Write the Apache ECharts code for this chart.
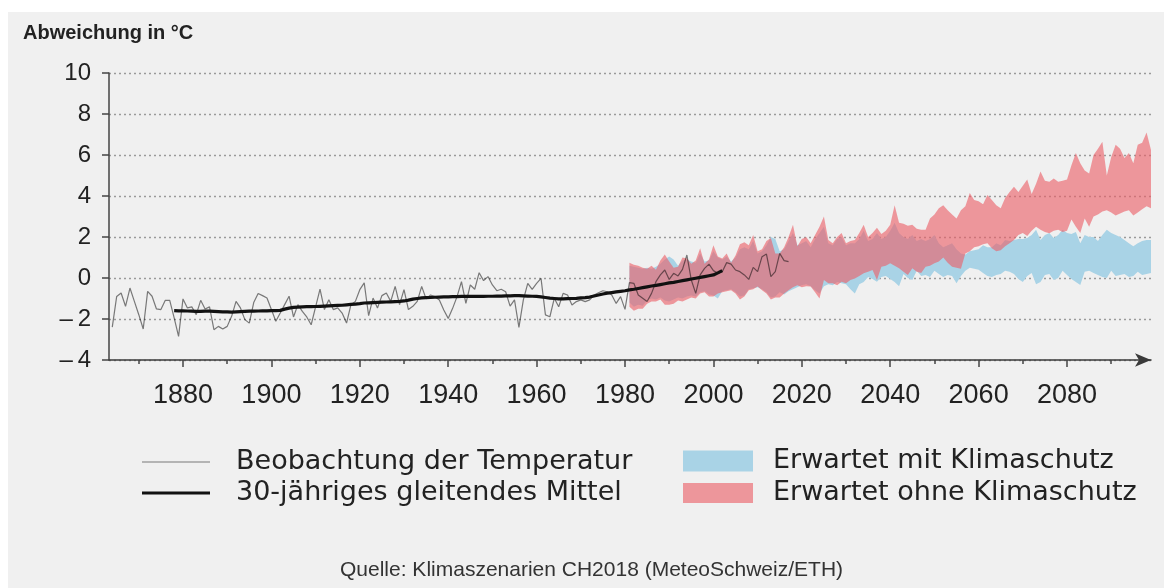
<!DOCTYPE html>
<html>
<head>
<meta charset="utf-8">
<script src="https://cdn.jsdelivr.net/npm/echarts@6/dist/echarts.min.js"></script>
<style>
  html, body { margin: 0; padding: 0; background: #fff; }
  #chart { position: absolute; left: 8px; top: 12px; width: 1156px; height: 576px; background: #f0f0f0; }
</style>
</head>
<body>
<div id="chart"></div>
<script>
// Beobachtung (jährliche Abweichung), ab 1864
const obsStart = 1864;
const obsValues = [
  -2.4, -0.9, -0.73, -1.38, -0.49, -1.14,
  -1.79, -2.49, -0.65, -0.89, -1.51, -1.54, -1.09, -1.09, -1.95, -2.85,
  -1.02, -1.46, -1.41, -1.79, -1.09, -1.51, -1.41, -2.52, -2.36, -2.49,
  -2.36, -1.87, -1.14, -1.46, -2.03, -2.2, -1.2, -0.76, -0.86, -0.98,
  -1.54, -2.11, -1.71, -1.3, -0.89, -1.9, -1.3, -1.63, -1.9, -2.28,
  -1.41, -0.54, -1.54, -1.06, -1.54, -1.46, -1.71, -2.2, -1.3, -1.14,
  -0.57, -0.24, -1.84, -0.98, -1.46, -0.86, -0.73, -1.14, -0.41, -1.3,
  -0.57, -1.54, -1.38, -1.14, -0.41, -1.02, -0.83, -0.91, -1.07, -1.56,
  -1.97, -1.48, -0.91, -0.18, -1.24, -0.34, -0.55, 0.26, -0.13, 0.07,
  -0.34, -0.62, -0.55, -0.67, -1.37, -1.07, -2.41, -1.07, -0.26, -0.55,
  -0.26, -0.02, -1.8, -1.89, -0.99, -1.4, -0.75, -0.83, -1.32, -1.15,
  -1.07, -1.15, -1.07, -0.83, -0.72, -0.62, -0.67, -0.83, -1.24, -0.91,
  -1.53, -0.23, -0.26, -0.83, -0.99, -1.15, -0.75, -0.18, 0.15, 0.39,
  -0.07, 0.23, 0.1, 0.42, 1.12, -0.1, -0.75, 0.15, 0.47, 0.68,
  0.36, 0.23, 0.31, 0.75, 0.68, 0.39, 0.31, 0.15, -0.07, 0.52,
  0.31, 1.04, 1.17, 0.07, 0.31, 1.2, 0.85, 0.8
];

// 30-jähriges gleitendes Mittel, ab 1878
const meanStart = 1878;
const meanValues = [
  -1.59, -1.60, -1.60, -1.61, -1.62, -1.63, -1.63, -1.62, -1.62, -1.63,
  -1.64, -1.65, -1.65, -1.66, -1.65, -1.64, -1.63, -1.62, -1.62, -1.61,
  -1.60, -1.60, -1.59, -1.59, -1.58,
  -1.52, -1.47, -1.43, -1.42, -1.41, -1.40, -1.40, -1.39, -1.38, -1.37, -1.36, -1.35, -1.34,
  -1.33, -1.31, -1.29, -1.27, -1.25, -1.22, -1.21, -1.20, -1.19, -1.18,
  -1.17, -1.16, -1.15, -1.14, -1.12, -1.08, -1.03, -1.00, -0.97, -0.96, -0.95,
  -0.94, -0.93, -0.92, -0.92, -0.91, -0.91, -0.90, -0.90, -0.90, -0.90,
  -0.90, -0.90, -0.89, -0.89, -0.88, -0.88, -0.87, -0.87, -0.86, -0.86,
  -0.87, -0.88, -0.89, -0.90, -0.92, -0.95,
  -0.98, -1.00, -1.02, -1.02, -1.01, -1.00, -0.99, -0.97, -0.96, -0.93,
  -0.88, -0.83, -0.78, -0.74, -0.71, -0.68, -0.65, -0.62, -0.58, -0.55,
  -0.51, -0.47, -0.43, -0.39, -0.36, -0.32, -0.28, -0.24, -0.21, -0.17,
  -0.13, -0.09, -0.05, -0.01, 0.03, 0.07, 0.11, 0.15, 0.25, 0.36
];

// Szenarien, ab 1981 (untere / obere Grenze)
const scenStart = 1981;
const blueLow = [
  -1.2, -1.4, -1.3, -1.35, -1.1, -1.0, -1.05, -0.95, -1.1, -1.15,
  -1.05, -0.95, -1.0, -0.9, -0.85, -0.9, -0.7, -0.65, -0.8, -0.85,
  -1.0, -0.65, -0.6, -0.55, -0.7, -0.9, -0.85, -0.55, -0.5, -0.45,
  -0.55, -0.7, -0.95, -0.9, -0.7, -0.8, -0.65, -0.55, -0.45, -0.35,
  -0.3, -0.4, -0.6, -0.75, -0.4, -0.3, -0.35, -0.2, -0.25, -0.3,
  -0.55, -0.75, -0.3, -0.2, 0.05, -0.05, -0.18, 0.05, 0.1, -0.05,
  -0.2, -0.4, 0.2, 0.0, -0.1, 0.35, 0.1, 0.15, 0.05, 0.35,
  0.2, 0.05, 0.15, 0.1, -0.26, 0.1, 0.35, 0.5, 0.45, 0.4,
  0.25, 0.1, 0.05, 0.15, 0.2, 0.35, 0.3, 0.2, -0.05, -0.2,
  0.1, 0.25, -0.3, -0.2, 0.15, 0.2, -0.1, 0.0, 0.35, 0.15,
  -0.05, -0.2, -0.34, 0.3, 0.35, 0.25, 0.15, 0.05, 0.0, 0.35,
  0.1, 0.15, 0.2, 0.05, 0.1, 0.3, 0.15, 0.2, 0.25
];
const blueHigh = [
  0.6, 0.55, 0.5, 0.45, 0.5, 0.45, 0.55, 0.7, 0.9, 1.05,
  0.9, 0.6, 0.85, 0.9, 0.8, 0.75, 1.2, 0.8, 0.85, 1.3,
  1.0, 0.9, 1.05, 0.8, 1.0, 1.4, 1.5, 1.4, 1.8, 1.2,
  1.3, 1.6, 2.0, 1.9, 1.3, 1.4, 1.8, 2.2, 1.6, 1.7,
  1.8, 1.5, 1.9, 2.2, 2.5, 1.7, 1.6, 1.9, 2.0, 1.6,
  1.7, 1.7, 1.9, 2.3, 1.8, 1.9, 2.2, 1.9, 2.0, 2.3,
  2.7, 2.2, 2.0, 1.9, 2.1, 1.8, 1.9, 1.8, 1.9, 2.1,
  1.7, 1.5, 1.6, 1.7, 1.4, 1.2, 1.15, 1.3, 1.35, 1.4,
  1.6, 1.5, 1.5, 1.7, 1.6, 1.85, 1.8, 1.85, 1.9, 1.9,
  1.95, 2.1, 2.35, 1.85, 2.1, 2.2, 1.95, 2.1, 2.35, 2.2,
  2.15, 2.25, 1.7, 2.1, 2.0, 2.0, 1.8, 2.1, 2.35, 2.2,
  2.1, 2.0, 1.85, 1.7, 1.55, 1.7, 1.8, 1.85, 1.85
];
const redLow = [
  -1.4, -1.6, -1.5, -1.5, -1.25, -1.15, -1.15, -1.05, -1.3, -1.3,
  -1.25, -1.1, -1.15, -1.05, -0.95, -1.0, -0.75, -0.7, -0.9, -0.9,
  -0.75, -0.7, -0.65, -0.6, -0.75, -1.05, -0.9, -0.6, -0.55, -0.42,
  -0.6, -0.75, -1.05, -0.95, -0.95, -0.75, -0.6, -0.45, -0.35, -0.45,
  -0.4, -0.42, -0.7, -1.0, -0.1, -0.25, -0.26, -0.35, -0.18, -0.26,
  -0.1, -0.02, 0.1, 0.23, 0.3, 0.39, -0.1, 0.55, 0.6, 0.72,
  0.6, 0.47, 0.3, 0.15, 0.47, 0.3, 0.25, 0.55, 0.6, 0.72,
  0.8, 1.0, 0.75, 0.55, 0.5, 0.45, 1.2, 1.3, 1.5, 1.55,
  1.65, 1.7, 1.45, 1.3, 1.35, 1.55, 1.7, 1.85, 2.1, 2.2,
  2.05, 2.3, 2.5, 2.35, 2.25, 2.18, 2.3, 2.35, 2.25, 2.3,
  2.85, 2.5, 2.2, 2.9, 2.5, 3.0, 3.1, 3.25, 3.3, 3.2,
  3.05, 3.15, 3.25, 3.3, 3.05, 3.2, 3.35, 3.5, 3.4
];
const redHigh = [
  0.75, 0.65, 0.6, 0.5, 0.45, 0.6, 0.4, 0.85, 1.15, 0.8,
  0.5, 0.55, 1.0, 0.95, 0.7, 0.85, 1.45, 0.7, 0.9, 1.6,
  1.05, 0.95, 1.2, 0.75, 1.1, 1.65, 1.75, 1.6, 2.1, 1.3,
  1.4, 1.8, 1.95, 1.2, 1.2, 1.5, 2.0, 2.6, 1.55, 1.9,
  2.0, 1.7, 2.1, 2.5, 3.0, 1.85, 1.7, 2.0, 2.2, 1.7,
  1.8, 1.85, 2.2, 2.6, 2.0, 2.2, 2.45, 2.15, 2.3, 2.6,
  3.55, 2.7, 2.65, 2.55, 2.6, 2.4, 2.35, 2.35, 2.9, 3.1,
  3.4, 3.55, 3.3, 3.1, 2.9, 3.3, 3.5, 4.15, 3.8, 3.75,
  3.6, 4.05, 3.8, 3.55, 3.4, 3.9, 4.2, 4.45, 4.2, 4.5,
  4.8, 4.1, 4.6, 5.2, 4.75, 4.7, 4.85, 4.7, 4.75, 4.8,
  5.5, 6.1, 5.6, 5.25, 5.1, 6.0, 6.3, 6.65, 5.0, 5.9,
  6.5, 6.3, 5.85, 6.1, 5.6, 6.5, 6.6, 7.1, 6.25
];

const majorYears = [1880, 1900, 1920, 1940, 1960, 1980, 2000, 2020, 2040, 2060, 2080];
const minorYears = [1870, 1890, 1910, 1930, 1950, 1970, 1990, 2010, 2030, 2050, 2070, 2090];

const xMin = 1863.26;
const xMax = 2099;

const blueColor = '#a9d3e6';
const redColor = 'rgba(236,96,104,0.62)';
const obsColor = 'rgba(0,0,0,0.5)';
const meanColor = '#111';
const font = "'Liberation Sans', Arial, sans-serif";
const legendFont = "'DejaVu Sans', sans-serif";

function pairs(start, arr) {
  return arr.map((v, i) => [start + i, v]);
}
function bandRows(start, lo, hi) {
  return lo.map((v, i) => [start + i, v, hi[i]]);
}

// whole band as one polygon, so the transparent red does not get seams
function renderBand(params, api) {
  if (params.dataIndexInside !== 0) return null;
  const n = params.dataInsideLength;
  const top = [], bottom = [];
  for (let i = 0; i < n; i++) {
    const x = api.value(0, i);
    top.push(api.coord([x, api.value(2, i)]));
    bottom.push(api.coord([x, api.value(1, i)]));
  }
  return {
    type: 'polygon',
    shape: { points: top.concat(bottom.reverse()) },
    style: { fill: api.visual('color') }
  };
}

function legendItem(name, top, left, w, h, color, pad) {
  return {
    orient: 'vertical', left: left, top: top, padding: 0,
    itemWidth: w, itemHeight: h, selectedMode: false,
    data: [{ name: name, icon: 'rect', itemStyle: { color: color, borderWidth: 0 } }],
    textStyle: { fontFamily: legendFont, fontSize: 27, lineHeight: 28, color: '#222', padding: [0, 0, 0, pad] }
  };
}

const chart = echarts.init(document.getElementById('chart'));

chart.setOption({
  animation: false,
  backgroundColor: 'transparent',
  title: [
    {
      text: 'Abweichung in °C',
      left: 15, top: 11, padding: 0,
      textStyle: { fontFamily: font, fontSize: 20, fontWeight: 'bold', color: '#222' }
    },
    {
      text: 'Quelle: Klimaszenarien CH2018 (MeteoSchweiz/ETH)',
      left: 332, top: 548, padding: 0,
      textStyle: { fontFamily: font, fontSize: 21, fontWeight: 'normal', color: '#333' }
    }
  ],
  legend: [
    legendItem('Beobachtung der Temperatur', 436, 134, 68, 1.2, obsColor, 21),
    legendItem('30-jähriges gleitendes Mittel', 467, 134, 68, 3, meanColor, 21),
    legendItem('Erwartet mit Klimaschutz', 435, 675, 70, 21, blueColor, 15),
    legendItem('Erwartet ohne Klimaschutz', 467, 675, 70, 20, redColor, 15)
  ],
  grid: { left: 101, right: 13, top: 61, bottom: 228 },
  xAxis: [
    {
      type: 'value', min: xMin, max: xMax, position: 'bottom',
      axisLine: {
        show: true, onZero: false,
        symbol: ['none', 'arrow'], symbolSize: [10, 16],
        lineStyle: { color: '#3a3a3a', width: 1.5 }
      },
      axisTick: { show: true, customValues: majorYears, length: 7, lineStyle: { color: '#444', width: 1.5 } },
      axisLabel: {
        customValues: majorYears, fontFamily: font, fontSize: 27, color: '#222', margin: 22,
        formatter: v => String(v)
      },
      splitLine: { show: false }
    },
    {
      type: 'value', min: xMin, max: xMax, position: 'bottom',
      axisLine: { show: false, onZero: false },
      axisTick: { show: true, customValues: minorYears, length: 4, lineStyle: { color: '#444', width: 1.5 } },
      axisLabel: { show: false },
      splitLine: { show: false }
    }
  ],
  yAxis: {
    type: 'value', min: -4, max: 10, interval: 2,
    axisLine: { show: true, lineStyle: { color: '#444', width: 1.5 } },
    axisTick: { show: true, length: 7, lineStyle: { color: '#444', width: 1.5 } },
    axisLabel: {
      fontFamily: font, fontSize: 24, color: '#222', margin: 18,
      formatter: v => (v < 0 ? '\u2013\u2009' + Math.abs(v) : String(v))
    },
    splitLine: { show: true, lineStyle: { color: '#9a9a9a', width: 1.3, type: [2, 3] } }
  },
  series: [
    {
      name: 'Erwartet mit Klimaschutz', type: 'custom', z: 1, silent: true,
      renderItem: renderBand,
      itemStyle: { color: blueColor },
      encode: { x: 0, y: [1, 2] },
      data: bandRows(scenStart, blueLow, blueHigh)
    },
    {
      name: 'Erwartet ohne Klimaschutz', type: 'custom', z: 2, silent: true,
      renderItem: renderBand,
      itemStyle: { color: redColor },
      encode: { x: 0, y: [1, 2] },
      data: bandRows(scenStart, redLow, redHigh)
    },
    {
      name: 'Beobachtung der Temperatur', type: 'line', symbol: 'none', z: 3,
      data: pairs(obsStart, obsValues),
      color: obsColor,
      lineStyle: { color: obsColor, width: 1.2 }
    },
    {
      name: '30-jähriges gleitendes Mittel', type: 'line', symbol: 'none', z: 4,
      data: pairs(meanStart, meanValues),
      color: meanColor,
      lineStyle: { color: meanColor, width: 3.2 }
    }
  ]
});
</script>
</body>
</html>
